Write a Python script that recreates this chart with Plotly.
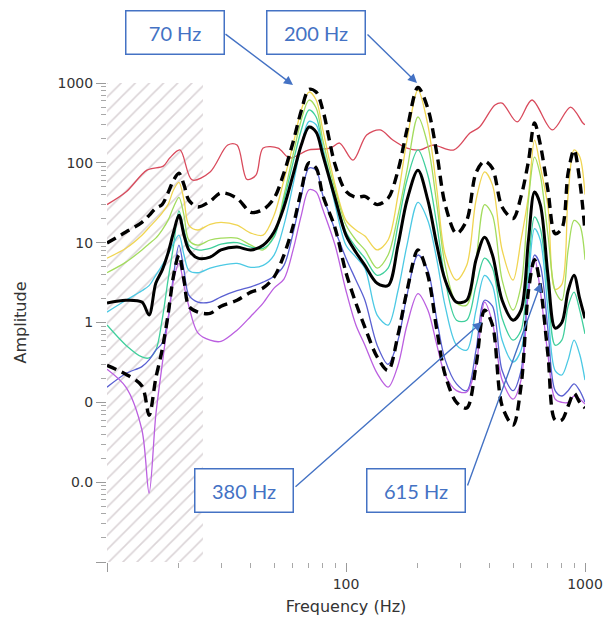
import plotly.graph_objects as go

# ---------------- data ----------------
FREQ = [10, 12, 14, 15, 16, 17, 18, 19, 20, 21, 22, 24, 27, 30, 35, 40, 45, 50, 55, 60,
        65, 70, 75, 80, 90, 100, 110, 120, 135, 150, 165, 180, 200, 220, 240, 260, 290,
        320, 350, 380, 410, 450, 500, 540, 580, 615, 650, 700, 750, 800, 850, 900, 950, 1000]

RED_FREQ = [10, 12, 14.7, 17.2, 18.3, 20.2, 22.7, 27, 32, 35, 38.5, 42, 45, 52, 58, 70, 86,
            94, 107, 122, 139, 157, 180, 204, 231, 283, 330, 362, 420, 450, 520, 600, 730,
            870, 980, 1000]
RED = [30, 43, 81, 91, 115, 145, 61, 77, 167, 167, 62, 70, 153, 153, 115, 145, 153, 177,
       108, 223, 258, 193, 153, 145, 167, 145, 236, 281, 530, 561, 325, 612, 258, 500, 315, 300]

DASH_UPPER = [9.9, 13.6, 18, 22, 27, 30, 42, 61, 74, 53, 34, 28, 33, 42, 36, 24, 26, 36, 75, 180,
              450, 830, 771, 459, 95, 44, 37, 38, 30, 36, 80, 260, 880, 480, 130, 30, 13,
              19, 75, 105, 85, 28, 20, 38, 105, 315, 170, 45, 13, 15, 75, 145, 60, 14]
YELLOW = [6.4, 8.5, 12.4, 15.5, 19, 23.5, 30, 46, 57, 34, 16.6, 14.4, 17, 18, 16.6, 13.2, 12.4, 22, 61, 167,
          459, 771, 612, 258, 53, 19, 14.4, 12.1, 8.1, 10.8, 39, 193, 817, 298, 46, 7, 3.4,
          5.2, 34, 77, 53, 8.1, 3.4, 10.8, 39, 193, 90, 28, 2.6, 3.0, 40, 145, 120, 40]
LIME = [4.2, 5.7, 8.1, 9.7, 11.4, 14.4, 19, 28, 37, 22, 10.8, 9.3, 10.8, 11.4, 11.4, 9.3, 8.1, 12.4, 39, 125,
        344, 612, 486, 193, 46, 16.6, 10.8, 8.1, 4.8, 7, 22, 81, 375, 167, 30, 5.2, 1.75,
        1.65, 6.1, 30, 22, 3.4, 1.43, 2.9, 34, 118, 70, 12.4, 2.5, 1.9, 8.1, 19, 16.6, 6.1]
TURQUOISE = [0.93, 0.52, 0.37, 0.36, 0.45, 1.07, 3.4, 9.3, 25, 14.4, 9.3, 8.1, 8.5, 9.6, 10, 8.8, 8.5, 11.7, 34, 100,
             258, 459, 375, 153, 39, 13.6, 8.8, 6.4, 3.9, 4.8, 16.6, 61, 145, 70, 16.6, 3.4, 1.07,
             1.07, 2.9, 6.4, 4.8, 1.13, 0.6, 0.8, 5.2, 21, 15, 2.5, 0.52, 0.6, 1.6, 2.4, 1.43, 0.72]
MEDIAN = [1.75, 1.9, 1.8, 1.24, 3.1, 4.5, 7.4, 13.6, 22, 12.4, 8.1, 6.4, 6.6, 8.1, 8.8, 8.1, 9.3, 13.6, 28, 70,
          167, 281, 243, 125, 36, 12.4, 7.6, 5.2, 3.1, 2.9, 9.3, 34, 81, 34, 9.3, 3.4, 1.8,
          1.9, 6.1, 11.7, 7, 1.9, 1.07, 1.43, 10.8, 43, 30, 3.9, 0.85, 1.0, 2.5, 3.9, 2.0, 1.13]
CYAN = [1.35, 1.9, 2.5, 2.9, 3.9, 5.2, 7, 9.9, 12.4, 7, 4.5, 4.2, 4.8, 5.2, 5.5, 4.9, 5.2, 7, 16.6, 53,
        167, 330, 300, 145, 30, 9.3, 6.6, 4.8, 1.24, 0.93, 2.5, 9.3, 32, 19, 6.1, 1.6, 0.52,
        0.45, 1.43, 3.9, 2.9, 0.6, 0.32, 0.45, 3.4, 15, 10.8, 1.43, 0.25, 0.22, 0.34, 0.6, 0.4, 0.19]
BLUE = [0.155, 0.23, 0.28, 0.34, 0.45, 0.55, 1.1, 4, 9.3, 4.5, 2.2, 1.8, 1.8, 2.1, 2.5, 2.8, 3.2, 3.8, 5.2, 13,
        38, 86, 81, 39, 14.4, 6.4, 3.4, 1.9, 0.52, 0.3, 0.6, 2.2, 7, 4.5, 1.07, 0.34, 0.17,
        0.14, 0.45, 1.9, 1.6, 0.25, 0.14, 0.25, 2.5, 7, 5.2, 0.8, 0.14, 0.12, 0.14, 0.17, 0.14, 0.1]
DASH_LOWER = [0.29, 0.225, 0.16, 0.069, 0.2, 0.45, 1.24, 3.9, 7, 3.4, 1.6, 1.35, 1.3, 1.6, 1.9, 2.4, 2.7, 3.7, 7, 16,
              45, 100, 86, 39, 15.3, 4.2, 1.75, 0.87, 0.37, 0.25, 0.7, 2.5, 8.1, 3.9, 0.8, 0.22, 0.1,
              0.085, 0.29, 1.43, 0.93, 0.09, 0.052, 0.16, 2.5, 6.1, 2.9, 0.39, 0.06, 0.06, 0.09, 0.13, 0.1, 0.085]
VIOLET = [0.26, 0.155, 0.045, 0.0073, 0.069, 0.29, 1.07, 3.4, 5.5, 2.9, 1.6, 0.74, 0.6, 0.58, 0.8, 1.2, 1.75, 2.7, 3.5, 8,
          22, 46, 43, 26, 9.3, 2.5, 0.93, 0.52, 0.23, 0.155, 0.29, 0.93, 2.3, 1.43, 0.52, 0.22, 0.14,
          0.135, 0.29, 1.8, 1.0, 0.19, 0.11, 0.19, 2.5, 6.4, 2.5, 0.39, 0.11, 0.1, 0.1, 0.12, 0.11, 0.095]

HATCH_F = [10, 25.2]            # frequency band shown hatched
Y_RANGE = [0.001, 1000]

Y_TICKS = [0.001, 0.01, 0.1, 1, 10, 100, 1000]
Y_TICKTEXT = ["", "0.0", "0", "1", "10", "100", "1000"]
X_TICKS = [10, 100, 1000]
X_TICKTEXT = ["", "100", "1000"]

PEAK_LABELS = ["70 Hz", "200 Hz", "380 Hz", "615 Hz"]

# ---------------- figure ----------------
fig = go.Figure()

# hatched low-frequency band
fig.add_trace(go.Scatter(
    x=[HATCH_F[0], HATCH_F[1], HATCH_F[1], HATCH_F[0], HATCH_F[0]],
    y=[Y_RANGE[0], Y_RANGE[0], Y_RANGE[1], Y_RANGE[1], Y_RANGE[0]],
    fill="toself", mode="lines", line=dict(width=0),
    fillcolor="rgba(0,0,0,0)",
    fillpattern=dict(shape="/", fgcolor="#b7a9b0", bgcolor="rgba(255,255,255,0)",
                     size=10, solidity=0.16),
    hoverinfo="skip", showlegend=False))

def line(x, y, color, width=1.3, dash="solid"):
    fig.add_trace(go.Scatter(
        x=x, y=y, mode="lines",
        line=dict(color=color, width=width, dash=dash, shape="spline", smoothing=0.9),
        showlegend=False, hoverinfo="skip"))

line(RED_FREQ, RED, "#d94a5c")
line(FREQ, YELLOW, "#f0d552")
line(FREQ, LIME, "#a3dc5e")
line(FREQ, TURQUOISE, "#3fcf9c")
line(FREQ, CYAN, "#4cc9e4")
line(FREQ, BLUE, "#5a60d2")
line(FREQ, VIOLET, "#bb5fe0")
line(FREQ, DASH_UPPER, "#000000", 3.4, "10px,6px")
line(FREQ, MEDIAN, "#000000", 3.0)
line(FREQ, DASH_LOWER, "#000000", 3.4, "10px,6px")

# minor tick positions
y_minor = [m * 10 ** e for e in range(-3, 3) for m in range(2, 10)]
x_minor = [m * 10 ** e for e in range(1, 3) for m in range(2, 10)]

fig.update_layout(
    width=606, height=623,
    margin=dict(l=107, r=21, t=83, b=61, autoexpand=False),
    paper_bgcolor="white", plot_bgcolor="white",
    font=dict(family="DejaVu Sans", color="#333333"),
    xaxis=dict(type="log", range=[1, 3], showgrid=False, zeroline=False, showline=False,
               automargin=False,
               tickmode="array", tickvals=X_TICKS, ticktext=X_TICKTEXT,
               ticks="outside", ticklen=9, tickcolor="#9a9a9a", tickwidth=1,
               tickfont=dict(size=14, color="#333333"),
               minor=dict(tickvals=x_minor, ticks="outside", ticklen=5,
                          tickcolor="#a8a8a8", showgrid=False),
               title=dict(text="Frequency (Hz)", font=dict(size=16, color="#333333"),
                          standoff=10)),
    yaxis=dict(type="log", range=[-3, 3], showgrid=False, zeroline=False, showline=False,
               automargin=False,
               tickmode="array", tickvals=Y_TICKS, ticktext=Y_TICKTEXT,
               ticks="outside", ticklen=10, tickcolor="#9a9a9a", tickwidth=1,
               tickfont=dict(size=14, color="#333333"),
               minor=dict(tickvals=y_minor, ticks="outside", ticklen=5,
                          tickcolor="#a8a8a8", showgrid=False),
               title=dict(text="Amplitude", font=dict(size=16, color="#333333"),
                          standoff=26)),
)

# ---------------- callouts ----------------
BLUE_C = "#4472C4"
W_PLOT, H_PLOT, L0, T0 = 478, 479, 107, 83

def px(xp, yp):
    return (xp - L0) / W_PLOT, (T0 + H_PLOT - yp) / H_PLOT

boxes = [(174.5, 33), (315.5, 33), (243.5, 490.5), (416, 490.5)]
arrows = [((224, 33), (293, 85)), ((366, 33), (417, 83)),
          ((294, 488), (482, 322)), ((467, 487), (541, 283))]

for (bx, by), lab in zip(boxes, PEAK_LABELS):
    xx, yy = px(bx, by)
    fig.add_annotation(x=xx, y=yy, xref="paper", yref="paper", text=lab,
                       showarrow=False, xanchor="center", yanchor="middle",
                       width=95, height=40, borderpad=1, borderwidth=1.5,
                       bordercolor=BLUE_C, bgcolor="white",
                       font=dict(family="Lato", size=20, color=BLUE_C))

for (tail, head) in arrows:
    hx, hy = px(*head)
    fig.add_annotation(x=hx, y=hy, xref="paper", yref="paper", text="",
                       showarrow=True, axref="pixel", ayref="pixel",
                       ax=tail[0] - head[0], ay=tail[1] - head[1],
                       arrowhead=2, arrowsize=1.3, arrowwidth=1.4, arrowcolor=BLUE_C,
                       standoff=0, startstandoff=0)

fig.write_html("out.html", config={"displayModeBar": False},
               post_script="document.body.style.margin='0';document.body.style.padding='0';")
